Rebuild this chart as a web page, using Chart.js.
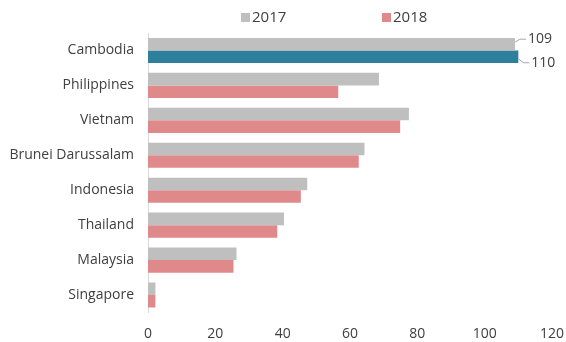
<!DOCTYPE html>
<html>
<head>
<meta charset="utf-8">
<script src="https://cdn.jsdelivr.net/npm/chart.js@4/dist/chart.umd.min.js"></script>
<style>
html,body{margin:0;padding:0;background:#fff;}
#wrap{width:566px;height:342px;position:relative;}
</style>
</head>
<body>
<div id="wrap"><canvas id="c" width="566" height="342"></canvas></div>
<script>
const categories = ["Cambodia","Philippines","Vietnam","Brunei Darussalam","Indonesia","Thailand","Malaysia","Singapore"];
const seriesNames = ["2017","2018"];
const values2017 = [109,68.6,77.5,64.3,47.3,40.4,26.3,2.2];
const values2018 = [110,56.5,74.9,62.6,45.4,38.4,25.4,2.2];
const labelledIndex = 0;
const xTicks = [0,20,40,60,80,100,120];

const GRAY = "#bfbfbf";
const PINK = "#e0898b";
const TEAL = "#2e7f9b";
const TEXT = "#404040";
const FONT = "'Open Sans', sans-serif";

const colors2018 = categories.map((c,i)=> i===labelledIndex ? TEAL : PINK);

const legendPlugin = {
  id:'customLegend',
  afterDraw(chart){
    const ctx = chart.ctx;
    ctx.save();
    ctx.font = "15px " + FONT;
    ctx.textBaseline = "middle";
    const items = [{t:seriesNames[0],c:GRAY},{t:seriesNames[1],c:PINK}];
    const y = 17;
    const starts = [241, 382];
    items.forEach((it,i)=>{
      ctx.fillStyle = it.c;
      ctx.fillRect(starts[i], y-4, 9, 9);
      ctx.fillStyle = TEXT;
      ctx.fillText(it.t, starts[i]+11, y+1);
    });
    ctx.restore();
  }
};

const labelPlugin = {
  id:'endLabels',
  afterDatasetsDraw(chart){
    const ctx = chart.ctx;
    ctx.save();
    ctx.font = "14px " + FONT;
    ctx.fillStyle = TEXT;
    ctx.strokeStyle = "#a6a6a6";
    ctx.lineWidth = 1;
    ctx.textBaseline = "middle";
    chart.data.datasets.forEach((ds,di)=>{
      const bar = chart.getDatasetMeta(di).data[labelledIndex];
      const v = ds.data[labelledIndex];
      const dy = di===0 ? -5 : 6;
      const tx = bar.x + 13;
      const ty = bar.y + dy;
      ctx.beginPath();
      ctx.moveTo(bar.x, bar.y + (di===0?-2:2));
      ctx.lineTo(bar.x+5, ty);
      ctx.lineTo(bar.x+11, ty);
      ctx.stroke();
      ctx.fillText(String(v), tx, ty);
    });
    ctx.restore();
  }
};

new Chart(document.getElementById('c'), {
  type:'bar',
  data:{
    labels:categories,
    datasets:[
      {label:seriesNames[0], data:values2017, backgroundColor:GRAY, barPercentage:1, categoryPercentage:0.72},
      {label:seriesNames[1], data:values2018, backgroundColor:colors2018, barPercentage:1, categoryPercentage:0.72}
    ]
  },
  options:{
    indexAxis:'y',
    responsive:false,
    animation:false,
    layout:{padding:{top:33,right:14,bottom:0,left:0}},
    plugins:{legend:{display:false}, tooltip:{enabled:false}},
    scales:{
      x:{
        min:0,max:120,
        afterBuildTicks(s){ s.ticks = xTicks.map(v=>({value:v})); },
        grid:{display:false, drawTicks:false},
        border:{display:false},
        ticks:{color:TEXT, font:{family:FONT,size:14}, padding:13},
        afterFit(s){ s.height = 29.5; s.paddingRight = 0; s.paddingLeft = 0; }
      },
      y:{
        grid:{display:false, drawTicks:false},
        border:{display:true, color:"#d9d9d9", width:1},
        ticks:{color:TEXT, font:{family:FONT,size:14}, padding:14},
        afterFit(s){ s.width = 148; }
      }
    }
  },
  plugins:[legendPlugin,labelPlugin]
});
</script>
</body>
</html>
